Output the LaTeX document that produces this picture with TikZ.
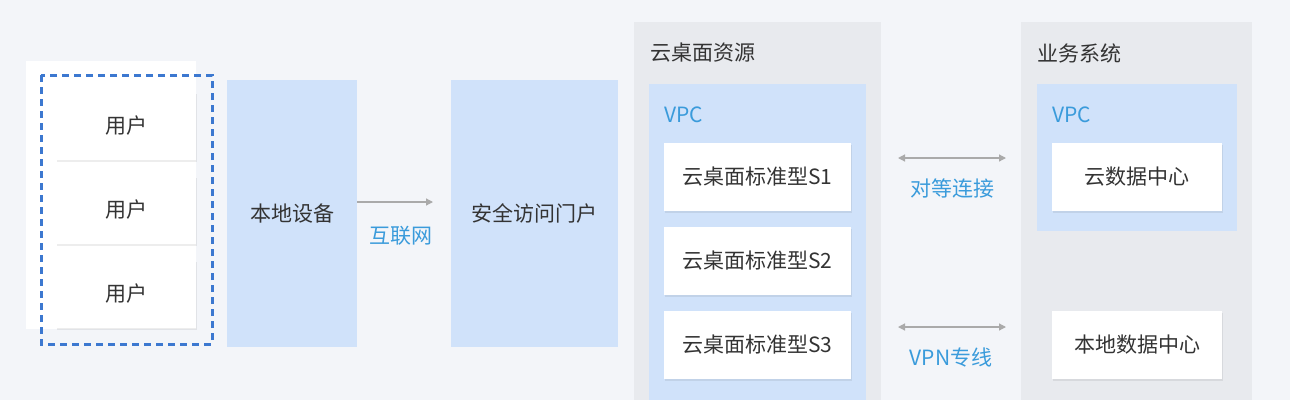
\documentclass[tikz,border=0pt]{standalone}
\usepackage{fontspec}
\setmainfont{Noto Sans CJK SC}
\usetikzlibrary{arrows.meta,shadows}
\definecolor{bg}{HTML}{F3F5F9}
\definecolor{panel}{HTML}{E8EAEE}
\definecolor{lblue}{HTML}{D0E2FA}
\definecolor{tblue}{HTML}{3A9BDB}
\definecolor{dblue}{HTML}{3C78D0}
\definecolor{txt}{HTML}{333333}
\definecolor{arr}{HTML}{AAAAAA}
\tikzset{
  fnt/.style={font=\fontsize{21}{21}\selectfont},
  box/.style={fill=white, draw=none, inner sep=0pt, text=txt, fnt,
    drop shadow={shadow xshift=0.5pt, shadow yshift=-1.5pt, opacity=0.07, fill=black}},
  bluebox/.style={fill=lblue, draw=none, inner sep=0pt, text=txt, fnt},
  panelbox/.style={fill=panel, draw=none},
  lbl/.style={text=tblue, fnt, inner sep=0pt},
  title/.style={text=txt, fnt, inner sep=0pt, anchor=west},
  link/.style={draw=arr, line width=1.2pt, -{Triangle[length=7pt,width=7pt]}},
  dlink/.style={draw=arr, line width=1.2pt, {Triangle[length=7pt,width=7pt]}-{Triangle[length=7pt,width=7pt]}},
}
\begin{document}
\begin{tikzpicture}[x=1pt,y=-1pt]
\fill[bg] (0,0) rectangle (1290,400);
\useasboundingbox (0,0) rectangle (1290,400);
% left group
\fill[white] (26,61) rectangle (196,329);
\node[box, minimum width=140pt, minimum height=68pt] (u1) at (126,126) {用户};
\node[box, minimum width=140pt, minimum height=68pt] (u2) at (126,210) {用户};
\node[box, minimum width=140pt, minimum height=68pt] (u3) at (126,294) {用户};
\draw[dblue, line width=3pt, dash pattern=on 7pt off 5pt] (41,75) rectangle (212,344);
\node[bluebox, minimum width=130pt, minimum height=267pt] (local) at (292,213.5) {本地设备};
\node[bluebox, minimum width=167pt, minimum height=267pt] (portal) at (534.5,213.5) {安全访问门户};
\coordinate (a1) at (433,202);
\draw[link] (local.east |- a1) -- (a1);
\node[lbl] (inet) at (401,236) {互联网};
% cloud desktop panel
\node[panelbox, minimum width=247pt, minimum height=378pt, anchor=north west, inner sep=0pt] (p1) at (634,22) {};
\node[title] (t1) at (650,53) {云桌面资源};
\node[fill=lblue, minimum width=217pt, minimum height=316pt, anchor=north west, inner sep=0pt] (v1) at (649,84) {};
\node[lbl, anchor=west] (vpc1) at (664,115) {VPC};
\node[box, minimum width=187pt, minimum height=68pt] (s1) at (757.5,177) {云桌面标准型S1};
\node[box, minimum width=187pt, minimum height=68pt] (s2) at (757.5,261) {云桌面标准型S2};
\node[box, minimum width=187pt, minimum height=68pt] (s3) at (757.5,345) {云桌面标准型S3};
% business panel
\node[panelbox, minimum width=231pt, minimum height=378pt, anchor=north west, inner sep=0pt] (p2) at (1021,22) {};
\node[title] (t2) at (1037,53) {业务系统};
\node[fill=lblue, minimum width=200pt, minimum height=147pt, anchor=north west, inner sep=0pt] (v2) at (1037,84) {};
\node[lbl, anchor=west] (vpc2) at (1052,115) {VPC};
\node[box, minimum width=170pt, minimum height=68pt] (cdc) at (1137,177) {云数据中心};
\node[box, minimum width=170pt, minimum height=68pt] (ldc) at (1137,345) {本地数据中心};
% links
\coordinate (b1) at (898,158);
\coordinate (b2) at (1006,158);
\draw[dlink] (b1) -- (b2);
\node[lbl] (peer) at (952,188) {对等连接};
\coordinate (c1) at (898,327);
\coordinate (c2) at (1006,327);
\draw[dlink] (c1) -- (c2);
\node[lbl] (vpn) at (951,358) {VPN专线};
\end{tikzpicture}
\end{document}
